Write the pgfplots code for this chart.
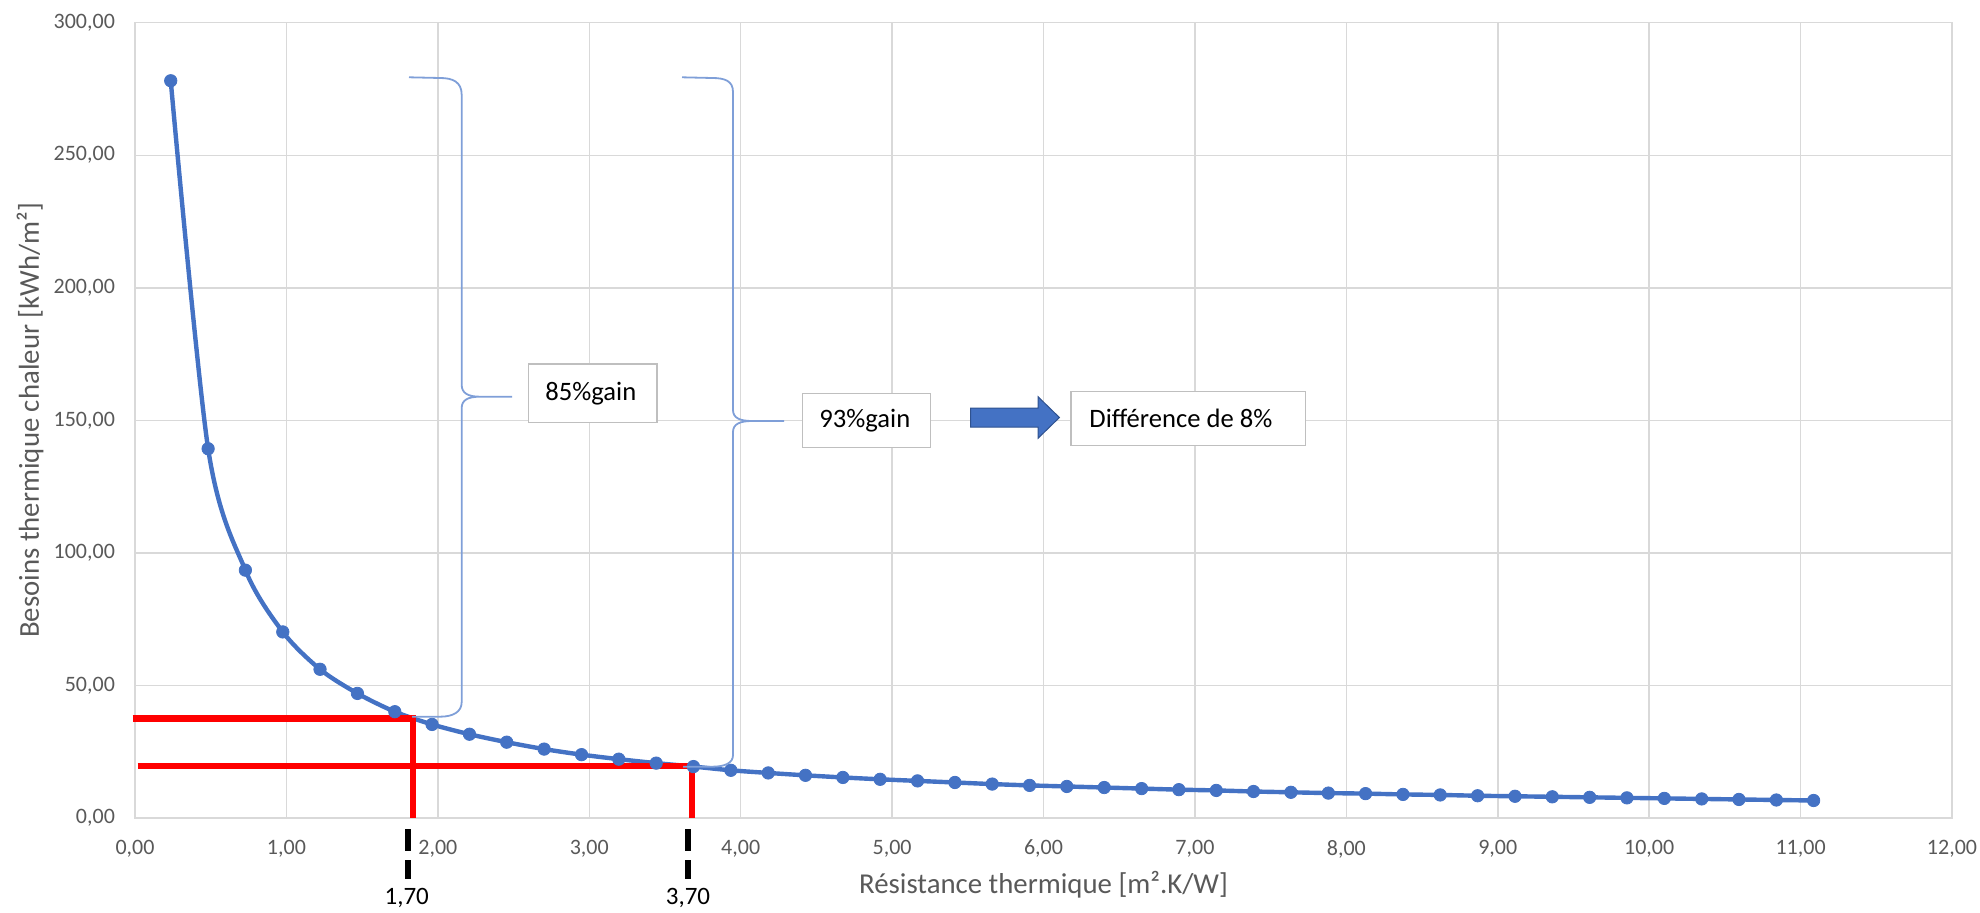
\documentclass[border=0pt]{standalone}
\usepackage{pgfplots}
\pgfplotsset{compat=1.18}
\usepackage{fontspec}
\setmainfont{Carlito}
\definecolor{exblue}{HTML}{4472C4}
\definecolor{bracecol}{HTML}{7F9FD8}
\definecolor{gridgrey}{HTML}{D9D9D9}
\definecolor{txtgrey}{HTML}{595959}
\definecolor{boxgrey}{HTML}{BFBFBF}
\definecolor{arrowedge}{HTML}{2F528F}

\pgfplotstableread{
x y
0.236 278.1
0.483 139.3
0.729 93.5
0.976 70.2
1.222 56.1
1.469 47.0
1.716 40.1
1.962 35.3
2.209 31.6
2.455 28.6
2.702 26.0
2.949 23.9
3.195 22.2
3.442 20.7
3.688 19.4
3.935 18.0
4.182 17.0
4.428 16.1
4.675 15.3
4.921 14.6
5.168 14.0
5.415 13.4
5.661 12.8
5.908 12.3
6.154 11.9
6.401 11.5
6.648 11.1
6.894 10.7
7.141 10.4
7.387 10.0
7.634 9.7
7.881 9.4
8.127 9.2
8.374 8.9
8.620 8.7
8.867 8.4
9.114 8.2
9.360 8.0
9.607 7.8
9.853 7.6
10.100 7.4
10.347 7.2
10.593 7.0
10.840 6.8
11.086 6.6
}\besoins

\begin{document}
\begin{tikzpicture}
\path[use as bounding box] (-67.5pt,-47pt) rectangle (922.5pt,409pt);
\begin{axis}[
  at={(0pt,0pt)}, anchor=south west,
  scale only axis, width=908.5pt, height=397.65pt,
  xmin=0, xmax=12, ymin=0, ymax=300,
  xtick={0,1,...,12}, ytick={0,50,...,300},
  grid=major,
  major grid style={draw=gridgrey, line width=0.75pt},
  axis line style={draw=gridgrey, line width=0.75pt},
  major tick length=0pt,
  clip=false,
  tick label style={font=\fontsize{11}{13}\selectfont, text=txtgrey},
  /pgf/number format/fixed,
  /pgf/number format/fixed zerofill,
  /pgf/number format/precision=2,
  /pgf/number format/use comma,
  /pgf/number format/assume math mode=true,
  yticklabel style={xshift=-6.5pt},
  xticklabel style={yshift=-7.5pt},
  xlabel={Résistance thermique [m².K/W]},
  ylabel={Besoins thermique chaleur [kWh/m²]},
  xlabel style={at={(rel axis cs:0.5,-0.0842)}, anchor=center, font=\fontsize{14.4}{17}\selectfont, text=txtgrey},
  ylabel style={at={(rel axis cs:-0.0578,0.5)}, anchor=center, font=\fontsize{14.4}{17}\selectfont, text=txtgrey},
]
\addplot[color=exblue, line width=2.2pt, smooth, tension=0.5,
  mark=*, mark size=3.1pt, mark options={solid, fill=exblue, draw=exblue, line width=0.4pt}]
  table[x=x, y=y] {\besoins};
\draw[red, line width=3.2pt] (axis cs:-0.015,37.5) -- (axis cs:1.834,37.5) -- (axis cs:1.834,0);
\draw[red, line width=3.2pt] (axis cs:0.018,19.7) -- (axis cs:3.677,19.7) -- (axis cs:3.677,0);
\end{axis}
\begin{scope}[x=0.5pt, y=-0.5pt, shift={(-67.5pt,409pt)}]
  % braces
  \draw[bracecol, line width=0.9pt]
    (409,77.3) -- (440,78) .. controls (453,78) and (461.7,82) .. (461.7,95)
    -- (461.7,385) .. controls (461.7,393) and (468,396.7) .. (480,396.7) -- (512,396.7)
    (480,396.7) .. controls (468,396.7) and (461.7,400) .. (461.7,408)
    -- (461.7,702) .. controls (461.7,712) and (453,716.7) .. (440,716.7) -- (412,716.7);
  \draw[bracecol, line width=0.9pt]
    (682,77.3) -- (712,78) .. controls (725,78) and (733,81) .. (733,92)
    -- (733,410) .. controls (733,418) and (740,421) .. (752,421) -- (784,421)
    (752,421) .. controls (740,421) and (733,424) .. (733,432)
    -- (733,755) .. controls (733,763) and (725,766.7) .. (712,766.7) -- (683,766.7);
  % text boxes
  \draw[boxgrey, line width=0.75pt, fill=white] (528.5,364) rectangle (657,422.7);
  \node[anchor=west, inner sep=0pt, font=\fontsize{13.3}{15}\selectfont] at (545,393.3) {85\%gain};
  \draw[boxgrey, line width=0.75pt, fill=white] (802.6,393.3) rectangle (930.3,447.3);
  \node[anchor=west, inner sep=0pt, font=\fontsize{13.3}{15}\selectfont] at (819,420.3) {93\%gain};
  \draw[boxgrey, line width=0.75pt, fill=white] (1071,391.7) rectangle (1305.7,445.7);
  \node[anchor=west, inner sep=0pt, font=\fontsize{13.3}{15}\selectfont] at (1089,418.7) {Différence de 8\%};
  % arrow
  \filldraw[fill=exblue, draw=arrowedge, line width=0.5pt]
    (970.7,408) -- (1038,408) -- (1038,396.7) -- (1059.4,417.5) -- (1038,438.3) -- (1038,427) -- (970.7,427) -- cycle;
  % dashed markers
  \draw[black, line width=3pt, dash pattern=on 10.7pt off 4.65pt] (408,829.3) -- (408,879.3);
  \draw[black, line width=3pt, dash pattern=on 10.7pt off 4.65pt] (688,829.3) -- (688,879.3);
  \node[font=\fontsize{12.5}{15}\selectfont] at (406.7,898) {1,70};
  \node[font=\fontsize{12.5}{15}\selectfont] at (688,898) {3,70};
\end{scope}
\end{tikzpicture}
\end{document}
